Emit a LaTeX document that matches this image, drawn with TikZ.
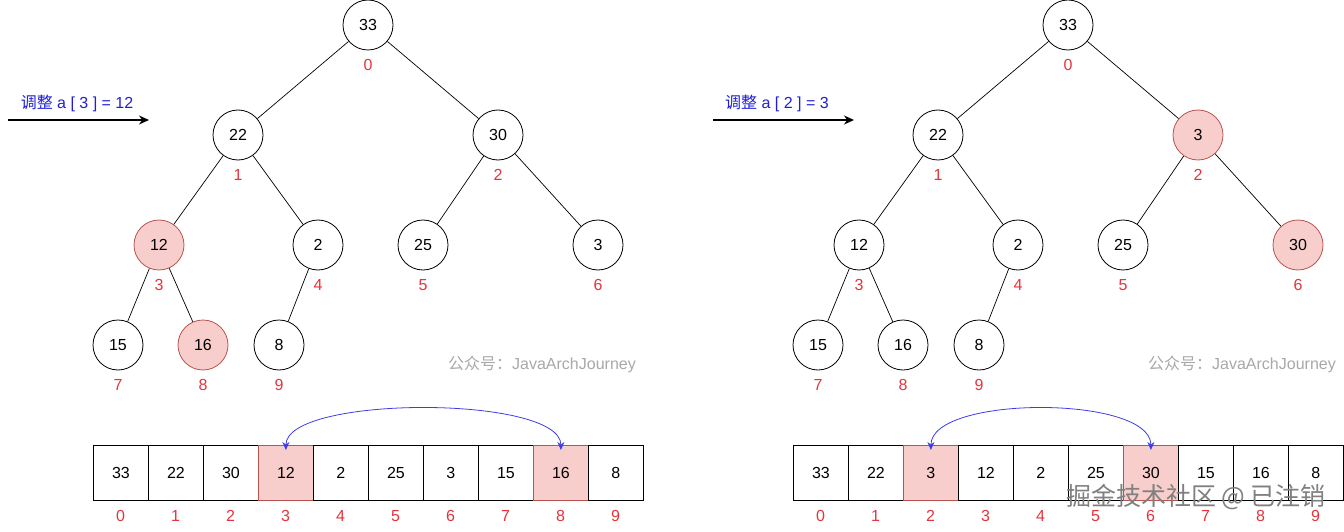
\documentclass[tikz,border=0pt]{standalone}
\usepackage{fontspec}
\setmainfont{Liberation Sans}
\newfontfamily\cjk{Noto Sans CJK SC}
\usetikzlibrary{arrows.meta}
\definecolor{hlfill}{HTML}{F8CECC}
\definecolor{hlline}{HTML}{B85450}
\definecolor{idxred}{HTML}{E5333B}
\definecolor{lblblue}{HTML}{1F1FD8}
\definecolor{curveblue}{HTML}{3D3DE8}
\definecolor{wmgray}{HTML}{A8A8A8}
\begin{document}
\begin{tikzpicture}[x=1pt,y=-1pt,
  every node/.style={font=\fontsize{16}{18}\selectfont},
  circ/.style={circle,draw=black,line width=0.8pt,fill=white,minimum size=50pt,inner sep=0pt},
  hlcirc/.style={circ,draw=hlline,fill=hlfill},
  idx/.style={text=idxred,inner sep=0pt},
  cell/.style={rectangle,draw=black,line width=0.8pt,fill=white,minimum width=55pt,minimum height=55pt,inner sep=0pt,anchor=north west},
  hlcell/.style={cell,draw=hlline,fill=hlfill},
  edge/.style={draw=black,line width=0.7pt},
  swap/.style={draw=curveblue,line width=0.8pt,{Stealth[length=8pt,width=7pt]}-{Stealth[length=8pt,width=7pt]}},
  pointer/.style={draw=black,line width=1.2pt,-{Stealth[length=10pt,width=9pt]}},
  lbl/.style={text=lblblue,inner sep=0pt},
  wm/.style={text=wmgray,inner sep=0pt}
]
\useasboundingbox (0,0) rectangle (1344,532);

% ---------------- Left tree ----------------
\node[circ] (L0) at (368,25) {33};
\node[circ] (L1) at (238,135) {22};
\node[circ] (L2) at (498,135) {30};
\node[hlcirc] (L3) at (159,245) {12};
\node[circ] (L4) at (318,245) {2};
\node[circ] (L5) at (423,245) {25};
\node[circ] (L6) at (598,245) {3};
\node[circ] (L7) at (118,345) {15};
\node[hlcirc] (L8) at (203,345) {16};
\node[circ] (L9) at (279,345) {8};
\foreach \a/\b in {L0/L1,L0/L2,L1/L3,L1/L4,L2/L5,L2/L6,L3/L7,L3/L8,L4/L9}
  \path[edge] (\a) -- (\b);
\node[idx] (Li0) at (368,65) {0};
\node[idx] (Li1) at (238,175) {1};
\node[idx] (Li2) at (498,175) {2};
\node[idx] (Li3) at (159,285) {3};
\node[idx] (Li4) at (318,285) {4};
\node[idx] (Li5) at (423,285) {5};
\node[idx] (Li6) at (598,285) {6};
\node[idx] (Li7) at (118,385) {7};
\node[idx] (Li8) at (203,385) {8};
\node[idx] (Li9) at (279,385) {9};

\coordinate (LpA) at (8,120);
\coordinate (LpB) at (149,120);
\path[pointer] (LpA) -- (LpB);
\node[lbl] (Llbl) at (77,103) {{\cjk 调整} a [ 3 ] = 12};
\node[wm] (Lwm) at (542,364) {{\cjk 公众号：}JavaArchJourney};

% Left array
\foreach \v [count=\i from 0] in {33,22,30,12,2,25,3,15,16,8} {
  \ifnum\i=3 \def\st{hlcell}\else\ifnum\i=8 \def\st{hlcell}\else\def\st{cell}\fi\fi
  \node[\st] (La\i) at (93+55*\i,445) {};
  \node at (La\i.center) {\v};
  \node[idx] (Lai\i) at (120.5+55*\i,516) {\i};
}
\path[swap] ([yshift=-5pt]La3.north) .. controls +(0,-55) and +(0,-55) .. ([yshift=-5pt]La8.north);

% ---------------- Right tree ----------------
\node[circ] (R0) at (1068,25) {33};
\node[circ] (R1) at (938,135) {22};
\node[hlcirc] (R2) at (1198,135) {3};
\node[circ] (R3) at (859,245) {12};
\node[circ] (R4) at (1018,245) {2};
\node[circ] (R5) at (1123,245) {25};
\node[hlcirc] (R6) at (1298,245) {30};
\node[circ] (R7) at (818,345) {15};
\node[circ] (R8) at (903,345) {16};
\node[circ] (R9) at (979,345) {8};
\foreach \a/\b in {R0/R1,R0/R2,R1/R3,R1/R4,R2/R5,R2/R6,R3/R7,R3/R8,R4/R9}
  \path[edge] (\a) -- (\b);
\node[idx] (Ri0) at (1068,65) {0};
\node[idx] (Ri1) at (938,175) {1};
\node[idx] (Ri2) at (1198,175) {2};
\node[idx] (Ri3) at (859,285) {3};
\node[idx] (Ri4) at (1018,285) {4};
\node[idx] (Ri5) at (1123,285) {5};
\node[idx] (Ri6) at (1298,285) {6};
\node[idx] (Ri7) at (818,385) {7};
\node[idx] (Ri8) at (903,385) {8};
\node[idx] (Ri9) at (979,385) {9};

\coordinate (RpA) at (713,120);
\coordinate (RpB) at (854,120);
\path[pointer] (RpA) -- (RpB);
\node[lbl] (Rlbl) at (777,103) {{\cjk 调整} a [ 2 ] = 3};
\node[wm] (Rwm) at (1242,364) {{\cjk 公众号：}JavaArchJourney};

% Right array
\foreach \v [count=\i from 0] in {33,22,3,12,2,25,30,15,16,8} {
  \ifnum\i=2 \def\st{hlcell}\else\ifnum\i=6 \def\st{hlcell}\else\def\st{cell}\fi\fi
  \node[\st] (Ra\i) at (793+55*\i,445) {};
  \node at (Ra\i.center) {\v};
  \node[idx] (Rai\i) at (820.5+55*\i,516) {\i};
}
\path[swap] ([yshift=-5pt]Ra2.north) .. controls +(0,-55) and +(0,-55) .. ([yshift=-5pt]Ra6.north);

% platform watermark
\node[inner sep=0pt,text=gray,font=\fontsize{25}{27}\selectfont\cjk] (wm2) at (1196,497) {掘金技术社区 @ 已注销};
\end{tikzpicture}
\end{document}
